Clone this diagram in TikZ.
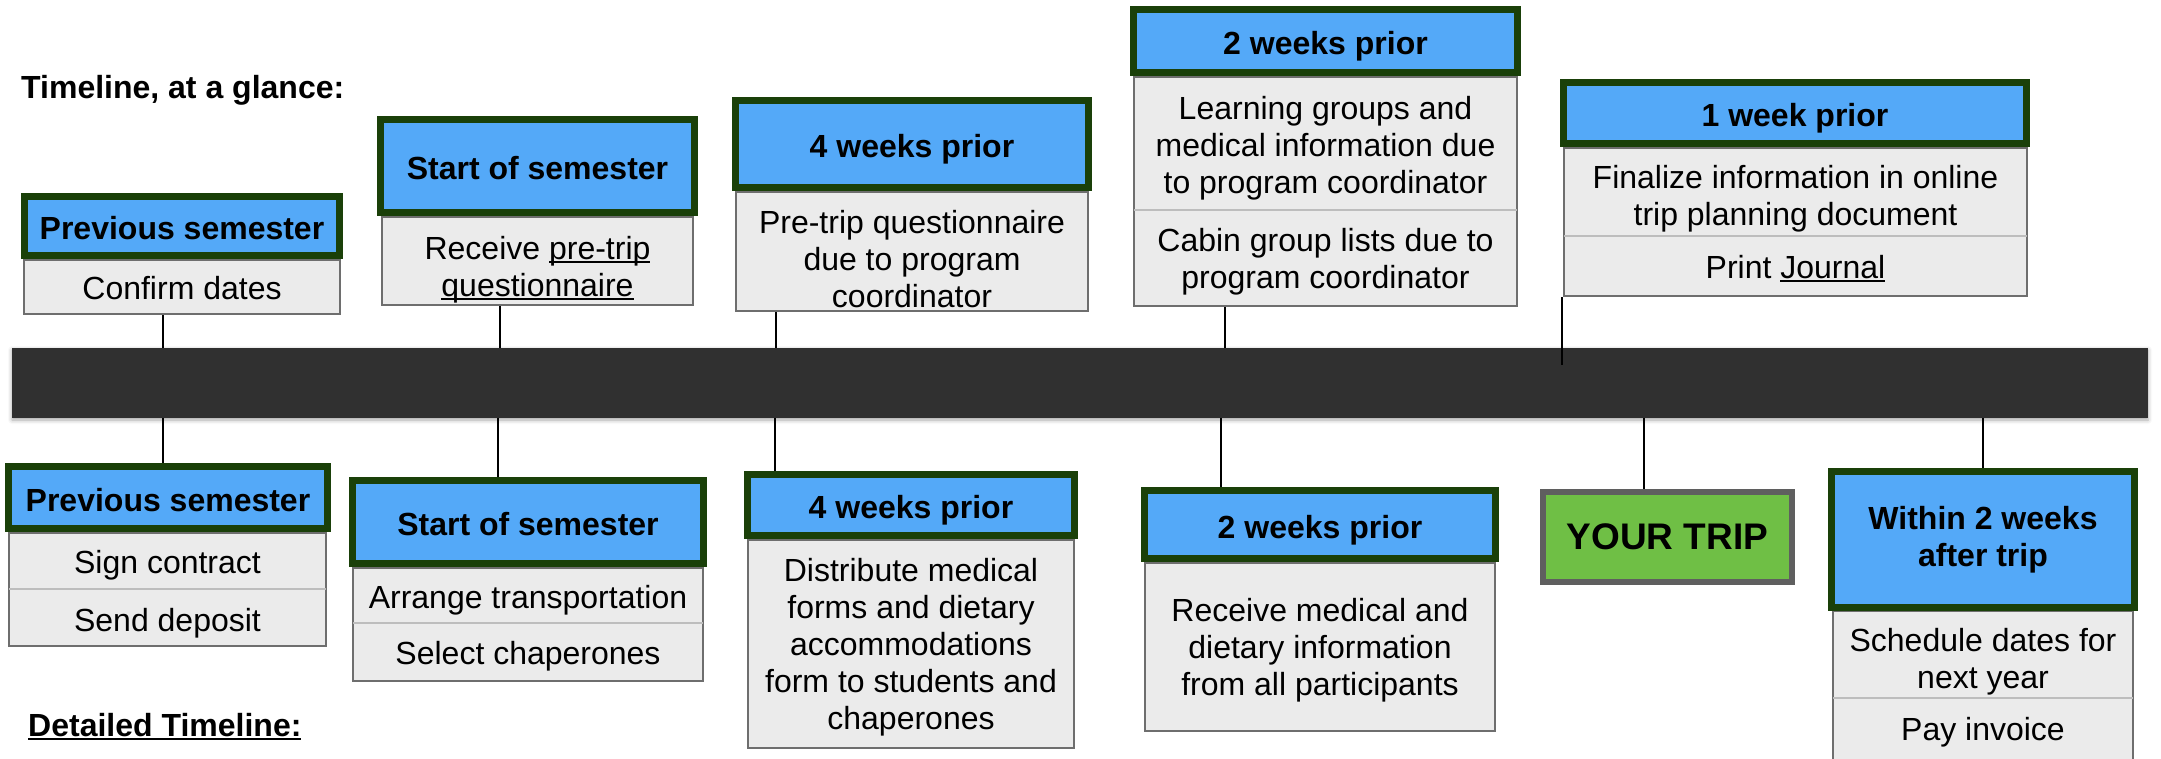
\documentclass[tikz,border=0pt]{standalone}
\usepackage{fontspec}
\setmainfont{Liberation Sans}
\usetikzlibrary{shadows.blur}
\definecolor{hblue}{HTML}{54A9F8}
\definecolor{hgreen}{HTML}{1A4009}
\definecolor{bfill}{HTML}{EBEBEB}
\definecolor{bgray}{HTML}{6E6E6E}
\definecolor{dgray}{HTML}{BDBDBD}
\definecolor{barcol}{HTML}{303030}
\definecolor{tripgreen}{HTML}{6FBF45}
\definecolor{tripgray}{HTML}{5F5F5F}
\newcommand\bodyfont{\fontsize{32}{37}\selectfont}
\newcommand\headfont{\fontsize{32}{37}\selectfont\bfseries}
\newcommand\tripfont{\fontsize{37}{42}\selectfont\bfseries}
\newcommand\myul[1]{\setbox0\hbox{#1}\rlap{\rule[-4pt]{\wd0}{2.2pt}}\box0}
\begin{document}
\begin{tikzpicture}[x=1pt,y=-1pt,
  headbox/.style={draw=hgreen,line width=7pt,fill=hblue,inner sep=0pt,font=\headfont,align=center,text height=27pt,text depth=0pt},
  headmulti/.style={draw=hgreen,line width=7pt,fill=hblue,inner sep=0pt,font=\headfont,align=center},
  bodybox/.style={draw=bgray,line width=2.5pt,fill=bfill,inner sep=0pt},
  txt/.style={font=\bodyfont,align=center,inner sep=0pt},
  divider/.style={draw=dgray,line width=2.7pt,shorten <=1.25pt,shorten >=1.25pt},
  conn/.style={draw=black,line width=2.5pt},
  tripbox/.style={draw=tripgray,line width=6.5pt,fill=tripgreen,inner sep=0pt,font=\tripfont,text height=24pt,text depth=0pt},
  barbox/.style={fill=barcol,draw=none,inner sep=0pt,blur shadow={shadow xshift=0pt,shadow yshift=-2pt,shadow blur radius=4pt,shadow opacity=35}},
  titletext/.style={font=\headfont,inner sep=0pt,anchor=base west}]
\useasboundingbox (0,0) rectangle (2161,759);
\clip (0,0) rectangle (2161,759);

% titles
\node[titletext] (title) at (21,99) {Timeline, at a glance:};
\node[titletext] (detail) at (28,736) {\myul{Detailed Timeline:}};

% timeline bar
\node[barbox,minimum width=2136pt,minimum height=70pt] (bar) at (1080,383) {};

% bodies
\node[bodybox,minimum width=316pt,minimum height=54pt] (b1) at (182,287) {};
\node[bodybox,minimum width=311pt,minimum height=88pt] (b2) at (537.5,261) {};
\node[bodybox,minimum width=352pt,minimum height=119pt] (b3) at (912,251.5) {};
\node[bodybox,minimum width=383pt,minimum height=229pt] (b4) at (1325.5,191.5) {};
\node[bodybox,minimum width=463pt,minimum height=148pt] (b5) at (1795.5,222) {};
\node[bodybox,minimum width=317pt,minimum height=113pt] (b6) at (167.5,589.5) {};
\node[bodybox,minimum width=350pt,minimum height=113pt] (b7) at (528,624.5) {};
\node[bodybox,minimum width=326pt,minimum height=208pt] (b8) at (911,644) {};
\node[bodybox,minimum width=350pt,minimum height=168pt] (b9) at (1320,647) {};
\node[bodybox,minimum width=300pt,minimum height=169pt] (b11) at (1983,695.5) {};

% dividers
\coordinate (d4) at (0,210);
\coordinate (d5) at (0,236);
\coordinate (d6) at (0,589);
\coordinate (d7) at (0,623);
\coordinate (d11) at (0,698);
\draw[divider] (b4.west |- d4) -- (b4.east |- d4);
\draw[divider] (b5.west |- d5) -- (b5.east |- d5);
\draw[divider] (b6.west |- d6) -- (b6.east |- d6);
\draw[divider] (b7.west |- d7) -- (b7.east |- d7);
\draw[divider] (b11.west |- d11) -- (b11.east |- d11);

% headers
\node[headbox,minimum width=315pt,minimum height=59pt] (h1) at (182,226) {Previous semester};
\node[headbox,minimum width=314pt,minimum height=93pt] (h2) at (537.5,166) {Start of semester};
\node[headbox,minimum width=353pt,minimum height=87pt] (h3) at (912,144) {4 weeks prior};
\node[headbox,minimum width=384pt,minimum height=63pt] (h4) at (1325.5,41) {2 weeks prior};
\node[headbox,minimum width=463pt,minimum height=61pt] (h5) at (1795,113) {1 week prior};
\node[headbox,minimum width=319pt,minimum height=62pt] (h6) at (168,497.5) {Previous semester};
\node[headbox,minimum width=351pt,minimum height=83pt] (h7) at (528,522) {Start of semester};
\node[headbox,minimum width=327pt,minimum height=61pt] (h8) at (911,505) {4 weeks prior};
\node[headbox,minimum width=351pt,minimum height=68pt] (h9) at (1320,524.5) {2 weeks prior};
\node[tripbox,minimum width=249pt,minimum height=90pt] (trip) at (1667.5,537) {YOUR TRIP};
\node[headmulti,minimum width=303pt,minimum height=136pt] (h11) at (1983,539.5) {Within 2 weeks\\after trip};

% body texts
\node[txt] (t1) at (182,292) {\strut Confirm dates};
\node[txt] (t2) at (537.5,270.5) {\strut Receive \myul{pre-trip}\\\strut\myul{questionnaire}};
\node[txt] (t3) at (912,262.7) {\strut Pre-trip questionnaire\\\strut due to program\\\strut coordinator};
\node[txt] (t4a) at (1325.5,149) {\strut Learning groups and\\\strut medical information due\\\strut to program coordinator};
\node[txt] (t4b) at (1325.5,263) {\strut Cabin group lists due to\\\strut program coordinator};
\node[txt] (t5a) at (1795.5,200) {\strut Finalize information in online\\\strut trip planning document};
\node[txt] (t5b) at (1795.5,271) {\strut Print \myul{Journal}};
\node[txt] (t6a) at (167.5,566) {\strut Sign contract};
\node[txt] (t6b) at (167.5,624) {\strut Send deposit};
\node[txt] (t7a) at (528,601) {\strut Arrange transportation};
\node[txt] (t7b) at (528,657) {\strut Select chaperones};
\node[txt] (t8) at (911,648) {\strut Distribute medical\\\strut forms and dietary\\\strut accommodations\\\strut form to students and\\\strut chaperones};
\node[txt] (t9) at (1320,651) {\strut Receive medical and\\\strut dietary information\\\strut from all participants};
\node[txt] (t11a) at (1983,663) {\strut Schedule dates for\\\strut next year};
\node[txt] (t11b) at (1983,733) {\strut Pay invoice};

% connectors
\coordinate (k1) at (163,0);
\coordinate (k2) at (500,0);
\coordinate (k3) at (776,0);
\coordinate (k4) at (1225,0);
\coordinate (k5) at (1562,365);
\coordinate (k6) at (163,0);
\coordinate (k7) at (498,0);
\coordinate (k8) at (775,0);
\coordinate (k9) at (1221,0);
\coordinate (k10) at (1644,0);
\coordinate (k11) at (1983,0);
\draw[conn] (b1.south -| k1) -- (bar.north -| k1);
\draw[conn] (b2.south -| k2) -- (bar.north -| k2);
\draw[conn] (b3.south -| k3) -- (bar.north -| k3);
\draw[conn] (b4.south -| k4) -- (bar.north -| k4);
\draw[conn] (b5.south -| k5) -- (k5);
\draw[conn] (bar.south -| k6) -- (h6.north -| k6);
\draw[conn] (bar.south -| k7) -- (h7.north -| k7);
\draw[conn] (bar.south -| k8) -- (h8.north -| k8);
\draw[conn] (bar.south -| k9) -- (h9.north -| k9);
\draw[conn] (bar.south -| k10) -- (trip.north -| k10);
\draw[conn] (bar.south -| k11) -- (h11.north -| k11);
\end{tikzpicture}
\end{document}
